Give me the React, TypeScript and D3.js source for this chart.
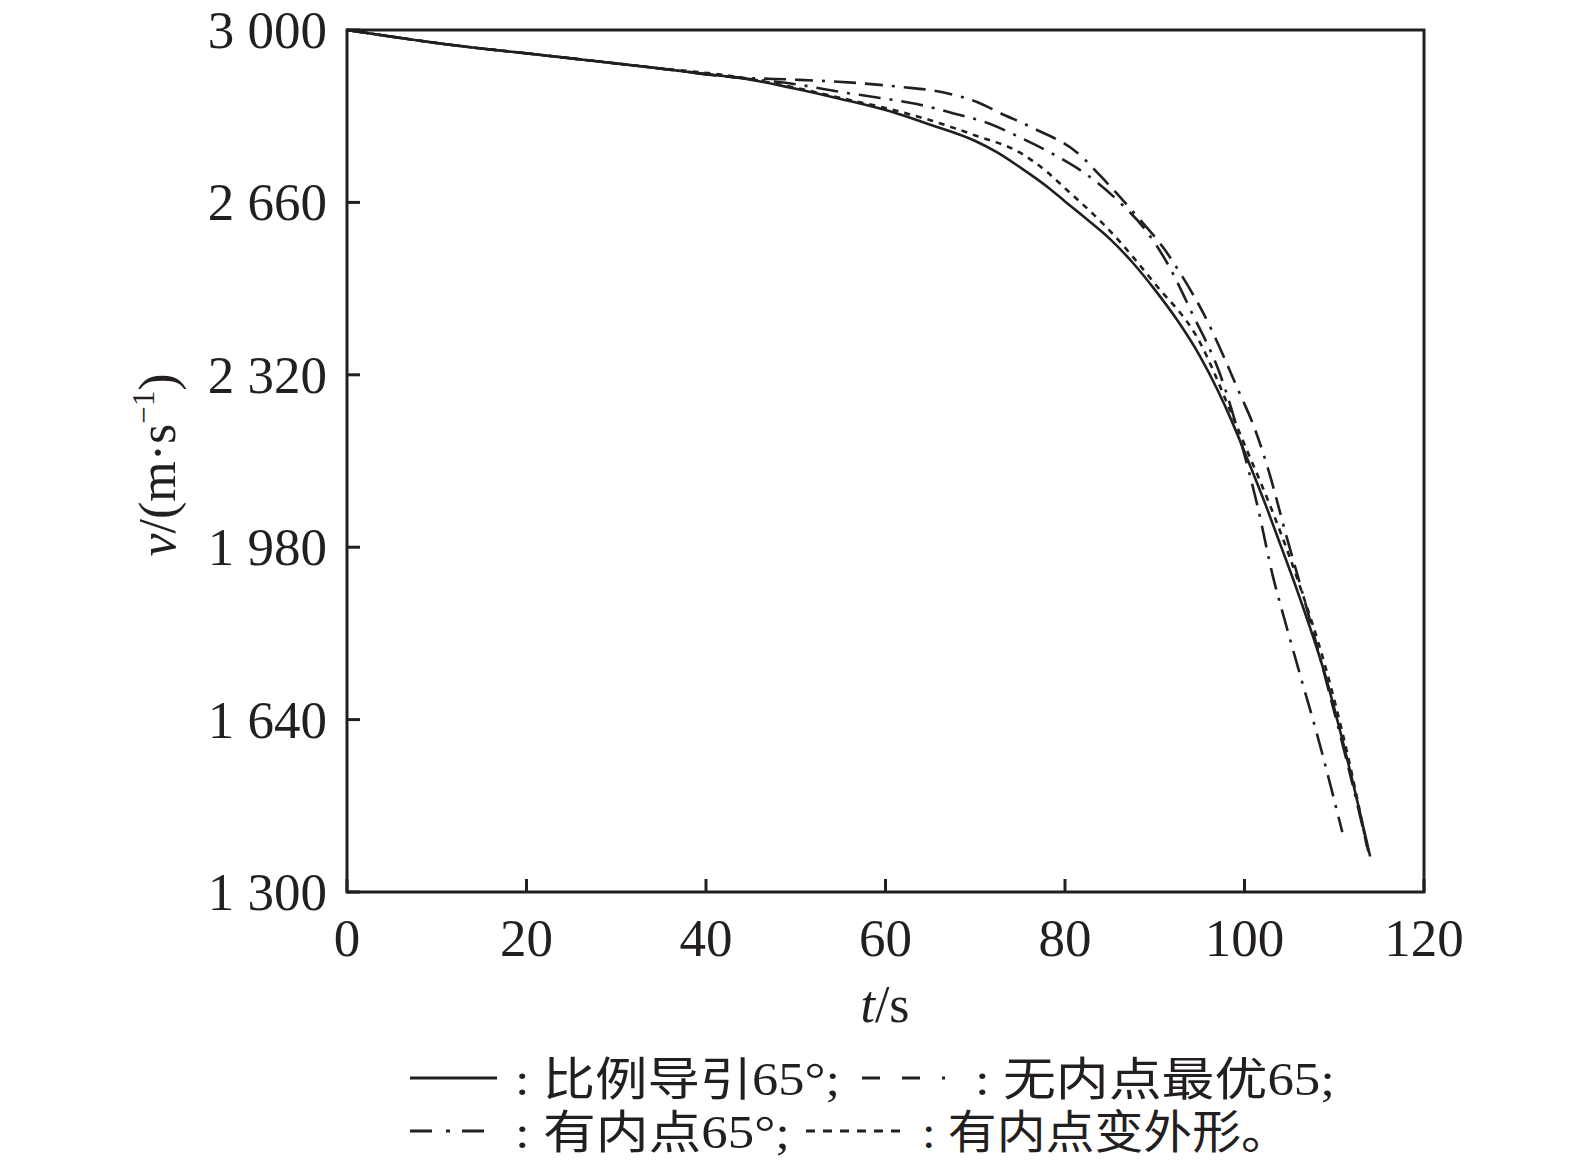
import React, { useEffect, useRef } from "react";
import * as d3 from "d3";

// proportional navigation 65°
const tSolid = [0, 11, 22, 33, 40, 44, 50, 55, 60, 65, 70, 72.4, 75, 78.3, 80, 82, 85, 87.6, 90, 92.5, 95, 97, 98.4, 100.3, 102.1, 104, 106, 109.2, 111.4, 114];
const vSolid = [3000, 2972, 2950, 2928, 2913, 2905, 2884, 2864, 2842, 2813, 2781, 2759, 2729, 2687, 2662, 2633, 2588, 2540, 2488, 2428, 2358, 2290, 2236, 2155, 2075, 1985, 1888, 1715, 1565, 1370];

// no interior point optimum 65
const tNoInner = [0, 11, 22, 33, 44, 50, 57.2, 61.6, 67.2, 70.2, 72.8, 76.4, 81.3, 84.7, 88.4, 90.9, 93.1, 95.4, 99.3, 101.2, 102.6, 104.7, 106, 108, 110, 112, 113.8];
const vNoInner = [3000, 2972, 2950, 2928, 2906, 2902, 2895, 2888, 2874, 2858, 2836, 2807, 2759, 2698, 2625, 2572, 2513, 2442, 2290, 2211, 2136, 2000, 1919, 1790, 1655, 1515, 1380];

// interior point 65°
const tInner = [0, 11, 22, 33, 44, 50, 54.9, 59.4, 63.5, 67.5, 71.6, 75, 78.7, 82.4, 86.1, 89, 91.4, 94.2, 97.3, 99.8, 101.4, 103.2, 104.5, 106.2, 108.1, 110.9];
const vInner = [3000, 2972, 2950, 2928, 2905, 2893, 2878, 2866, 2854, 2836, 2815, 2788, 2755, 2715, 2660, 2605, 2540, 2440, 2320, 2175, 2065, 1920, 1835, 1728, 1610, 1418];

// interior point, variable shape
const tShape = [0, 11, 22, 33, 44, 50, 55, 60, 65, 70, 75, 78, 80, 85, 90, 95, 98.4, 100.3, 102.1, 104, 106, 109, 111.5, 113.7];
const vShape = [3000, 2972, 2950, 2928, 2906, 2886, 2866, 2846, 2822, 2792, 2758, 2720, 2688, 2604, 2500, 2385, 2250, 2170, 2095, 2010, 1912, 1745, 1570, 1385];

const xTicks = [0, 20, 40, 60, 80, 100, 120];
const yTicks = [1300, 1640, 1980, 2320, 2660, 3000];

const seriesNames = ["比例导引65°;", "无内点最优65;", "有内点65°;", "有内点变外形。"];
const seriesDash = ["", "22 9 18 9 3 9", "22 9 3 9", "6 6"];

const ink = "#231f20";
const serif = "'Liberation Serif', 'Times New Roman', serif";
const cjk = "'Liberation Serif', 'Noto Sans CJK SC', serif";

const W = 1575;
const H = 1169;

const App = () => {
  const ref = useRef<SVGSVGElement>(null);

  useEffect(() => {
    document.body.style.margin = "0";
    const svg = d3.select(ref.current);
    svg.selectAll("*").remove();

    const x = d3.scaleLinear().domain([0, 120]).range([347, 1424]);
    const y = d3.scaleLinear().domain([1300, 3000]).range([892, 30]);

    const series = [
      { t: tSolid, v: vSolid },
      { t: tNoInner, v: vNoInner },
      { t: tInner, v: vInner },
      { t: tShape, v: vShape },
    ];

    const line = d3
      .line<[number, number]>()
      .x((d) => x(d[0]))
      .y((d) => y(d[1]))
      .curve(d3.curveMonotoneX);

    const plot = svg.append("g");
    series.forEach((s, i) => {
      const pts = s.t.map((t, j) => [t, s.v[j]] as [number, number]);
      plot
        .append("path")
        .attr("d", line(pts))
        .attr("fill", "none")
        .attr("stroke", ink)
        .attr("stroke-width", 2.6)
        .attr("stroke-dasharray", seriesDash[i] || null);
    });

    // frame
    svg
      .append("rect")
      .attr("x", x(0))
      .attr("y", y(3000))
      .attr("width", x(120) - x(0))
      .attr("height", y(1300) - y(3000))
      .attr("fill", "none")
      .attr("stroke", ink)
      .attr("stroke-width", 3);

    const tickLen = 13;
    xTicks.forEach((t) => {
      svg
        .append("line")
        .attr("x1", x(t))
        .attr("x2", x(t))
        .attr("y1", y(1300))
        .attr("y2", y(1300) - tickLen)
        .attr("stroke", ink)
        .attr("stroke-width", 3);
      svg
        .append("text")
        .attr("x", x(t))
        .attr("y", 956)
        .attr("text-anchor", "middle")
        .attr("font-family", serif)
        .attr("font-size", 53)
        .attr("fill", ink)
        .text(String(t));
    });

    yTicks.forEach((v) => {
      svg
        .append("line")
        .attr("x1", x(0))
        .attr("x2", x(0) + tickLen)
        .attr("y1", y(v))
        .attr("y2", y(v))
        .attr("stroke", ink)
        .attr("stroke-width", 3);
      const s = String(v);
      svg
        .append("text")
        .attr("x", 327)
        .attr("y", y(v) + 18)
        .attr("text-anchor", "end")
        .attr("font-family", serif)
        .attr("font-size", 53)
        .attr("fill", ink)
        .text(s.slice(0, 1) + " " + s.slice(1));
    });

    // axis titles
    const xt = svg
      .append("text")
      .attr("x", 885)
      .attr("y", 1022)
      .attr("text-anchor", "middle")
      .attr("font-family", serif)
      .attr("font-size", 52)
      .attr("fill", ink);
    xt.append("tspan").attr("font-style", "italic").text("t");
    xt.append("tspan").text("/s");

    const yt = svg
      .append("text")
      .attr("transform", "translate(175,465) rotate(-90)")
      .attr("text-anchor", "middle")
      .attr("font-family", serif)
      .attr("font-size", 52)
      .attr("fill", ink);
    yt.append("tspan").attr("font-style", "italic").text("v");
    yt.append("tspan").text("/(m·s");
    yt.append("tspan").attr("font-size", 31).attr("dy", -21).text("−1");
    yt.append("tspan").attr("dy", 21).text(")");

    // legend
    const legend = svg.append("g");
    const rows = [
      { y: 1095, items: [{ x0: 410, x1: 497 }, { x0: 862, x1: 950 }] },
      { y: 1148, items: [{ x0: 410, x1: 492 }, { x0: 806, x1: 908 }] },
    ];
    const legendText = [
      { x: 515, y: 1095, len: 325, s: 0 },
      { x: 975, y: 1095, len: 360, s: 1 },
      { x: 515, y: 1148, len: 275, s: 2 },
      { x: 922, y: 1148, len: 368, s: 3 },
    ];
    const sampleDash = ["", "18 22 18 22 3 40", "22 14 4 12", "9 8"];
    let k = 0;
    rows.forEach((r) => {
      r.items.forEach((it) => {
        legend
          .append("line")
          .attr("x1", it.x0)
          .attr("x2", it.x1)
          .attr("y1", r.y - 17)
          .attr("y2", r.y - 17)
          .attr("stroke", ink)
          .attr("stroke-width", 3)
          .attr("stroke-dasharray", sampleDash[k] || null);
        k += 1;
      });
    });
    legendText.forEach((lt) => {
      legend
        .append("text")
        .attr("x", lt.x)
        .attr("y", lt.y)
        .attr("font-family", cjk)
        .attr("font-size", 46)
        .attr("fill", ink)
        .attr("textLength", lt.len)
        .attr("lengthAdjust", "spacingAndGlyphs")
        .text(": " + seriesNames[lt.s]);
    });
  }, []);

  return <svg ref={ref} width={W} height={H} style={{ display: "block", background: "#fff" }} />;
};

export default App;
